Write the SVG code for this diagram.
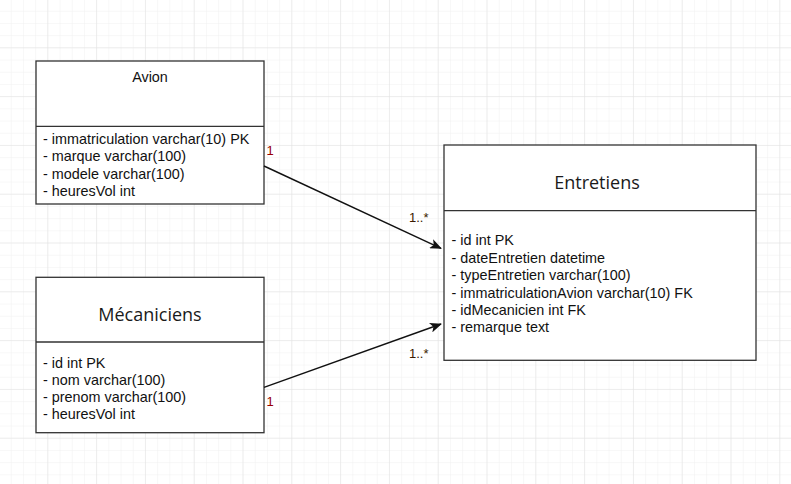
<svg xmlns="http://www.w3.org/2000/svg" width="791" height="484" viewBox="0 0 791 484">
<style>
.box{fill:#ffffff;stroke:#333333;stroke-width:1.3}
.div{stroke:#333333;stroke-width:1.3}
.f{font-family:"Liberation Sans",Arial,sans-serif;font-size:14.4px;fill:#111111}
.t{font-family:"Open Sans","Noto Sans",sans-serif;font-size:18px;fill:#1a1a1a;text-anchor:middle}
.edge{stroke:#111111;stroke-width:1.4;fill:none}
.l1{font-family:"Liberation Sans",Arial,sans-serif;font-size:13px;fill:#990000}
.lm{font-family:"Liberation Sans",Arial,sans-serif;font-size:13px;fill:#3a1a00}
</style>
<defs>
<pattern id="minor" x="-0.5" y="-0.5" width="12.2" height="12.2" patternUnits="userSpaceOnUse">
<path d="M12.2 0V12.2M0 12.2H12.2" stroke="#f0f0f0" stroke-width="1" fill="none"/>
</pattern>
<pattern id="major" x="-0.5" y="-0.5" width="48.8" height="48.8" patternUnits="userSpaceOnUse">
<path d="M48.8 0V48.8M0 48.8H48.8" stroke="#e2e2e2" stroke-width="1" fill="none"/>
</pattern>
<marker id="arr" markerWidth="12" markerHeight="10" refX="11" refY="5" orient="auto" markerUnits="userSpaceOnUse">
<path d="M0 0L12 5L0 10L3 5Z" fill="#111111"/>
</marker>
</defs>
<rect width="791" height="484" fill="#ffffff"/>
<rect width="791" height="484" fill="url(#minor)"/>
<rect width="791" height="484" fill="url(#major)"/>

<g id="avion">
<rect class="box" x="36" y="61" width="228" height="143"/>
<line class="div" x1="36" y1="126.3" x2="264" y2="126.3"/>
<text class="f" x="150" y="82" text-anchor="middle">Avion</text>
<text class="f" x="43" y="144">- immatriculation varchar(10) PK</text>
<text class="f" x="43" y="161">- marque varchar(100)</text>
<text class="f" x="43" y="178.7">- modele varchar(100)</text>
<text class="f" x="43" y="196">- heuresVol int</text>
</g>

<g id="mecaniciens">
<rect class="box" x="36" y="277.3" width="228" height="155.4"/>
<line class="div" x1="36" y1="342" x2="264" y2="342"/>
<text class="t" x="150" y="320.5">Mécaniciens</text>
<text class="f" x="43" y="367.7">- id int PK</text>
<text class="f" x="43" y="384.7">- nom varchar(100)</text>
<text class="f" x="43" y="402">- prenom varchar(100)</text>
<text class="f" x="43" y="418.7">- heuresVol int</text>
</g>

<g id="entretiens">
<rect class="box" x="444" y="145" width="312" height="215.3"/>
<line class="div" x1="444" y1="210.7" x2="756" y2="210.7"/>
<text class="t" x="597" y="189">Entretiens</text>
<text class="f" x="451.5" y="245">- id int PK</text>
<text class="f" x="451.5" y="262.7">- dateEntretien datetime</text>
<text class="f" x="451.5" y="280">- typeEntretien varchar(100)</text>
<text class="f" x="451.5" y="297.7">- immatriculationAvion varchar(10) FK</text>
<text class="f" x="451.5" y="314.7">- idMecanicien int FK</text>
<text class="f" x="451.5" y="331.7">- remarque text</text>
</g>

<g id="connectors">
<line class="edge" x1="264" y1="166" x2="441" y2="248.3" marker-end="url(#arr)"/>
<line class="edge" x1="264" y1="387.3" x2="441" y2="324" marker-end="url(#arr)"/>
<text class="l1" x="266.5" y="155">1</text>
<text class="lm" x="409" y="221.5">1..*</text>
<text class="l1" x="266.5" y="405.5">1</text>
<text class="lm" x="409" y="357.5">1..*</text>
</g>
</svg>
